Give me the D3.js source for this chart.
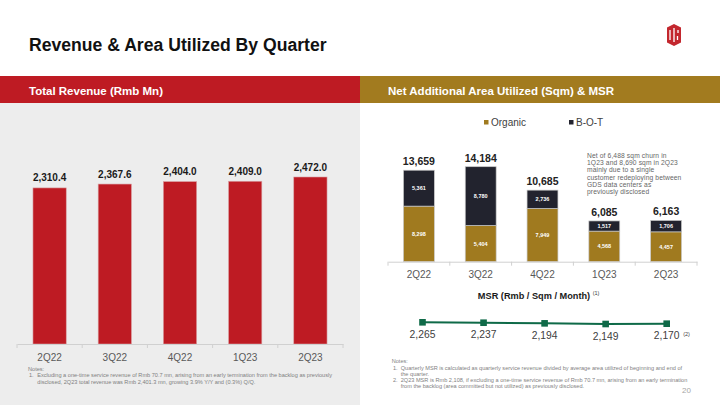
<!DOCTYPE html>
<html><head><meta charset="utf-8">
<script src="https://cdn.jsdelivr.net/npm/d3@7"></script>
<style>
html,body{margin:0;padding:0;background:#fff;}
svg{display:block;font-family:"Liberation Sans",Arial,sans-serif;}
</style></head>
<body>
<svg id="c" width="720" height="405"></svg>
<script>
// ---- data ----
const quarters = ["2Q22","3Q22","4Q22","1Q23","2Q23"];
const revenue = [2310.4, 2367.6, 2404.0, 2409.0, 2472.0];
const organic = [8298, 5404, 7949, 4568, 4457];
const bot = [5361, 8780, 2736, 1517, 1706];
const areaTotal = [13659, 14184, 10685, 6085, 6163];
const msr = [2265, 2237, 2194, 2149, 2170];
const seriesNames = ["Organic","B-O-T"];
const annotationLines = ["Net of 6,488 sqm churn in","1Q23 and 8,690 sqm in 2Q23","mainly due to a single","customer redeploying between","GDS data centers as","previously disclosed"];
const leftNotes = ["Notes:","Excluding a one-time service revenue of Rmb 70.7 mn, arising from an early termination from the backlog as previously","disclosed, 2Q23 total revenue was Rmb 2,401.3 mn, growing 3.9% Y/Y and (0.3%) Q/Q."];
const rightNotes = ["Notes:","Quarterly MSR is calculated as quarterly service revenue divided by average area utilized of beginning and end of","the quarter.","2Q23 MSR is Rmb 2,108, if excluding a one-time service revenue of Rmb 70.7 mn, arising from an early termination","from the backlog (area committed but not utilized) as previously disclosed."];

const RED="#BE1B23", GOLD="#A07A1F", NAVY="#22232E", GREEN="#0F6A48";
const fmt0 = d3.format(",.0f"), fmt1 = d3.format(",.1f");

const svg = d3.select("#c");

// title
svg.append("text").attr("x",29).attr("y",51).attr("font-size",17.6).attr("font-weight","bold")
  .attr("fill","#111").text("Revenue & Area Utilized By Quarter");

// logo
const lg = svg.append("g").attr("transform","translate(667,24)");
lg.append("path").attr("d","M7,0 L14,3.5 L14,18.5 L7,22 L0,18.5 L0,3.5 Z").attr("fill","#C3272E");
lg.append("path").attr("d","M3,6 L3,16 M7,4 L7,18 M11,6 L11,9 M10.5,12 L10.5,16").attr("stroke","#fff").attr("stroke-width",1.3).attr("fill","none");

// header bands
svg.append("rect").attr("x",0).attr("y",76).attr("width",360).attr("height",27).attr("fill",RED);
svg.append("rect").attr("x",360).attr("y",76).attr("width",360).attr("height",27).attr("fill","#A27B1F");
svg.append("text").attr("x",29).attr("y",95).attr("font-size",11.5).attr("font-weight","bold").attr("fill","#fff").text("Total Revenue (Rmb Mn)");
svg.append("text").attr("x",388).attr("y",95).attr("font-size",11.5).attr("font-weight","bold").attr("fill","#fff").text("Net Additional Area Utilized (Sqm) & MSR");

// left panel background
svg.append("rect").attr("x",0).attr("y",103).attr("width",360).attr("height",302).attr("fill","#EDEDED");

// ---- left bar chart ----
const xL = d3.scaleBand().domain(quarters).range([17,343]).paddingInner(0.49).paddingOuter(0.245);
const yL = d3.scaleLinear().domain([0,2472]).range([344,177]);
const gL = svg.append("g");
gL.selectAll("rect.bar").data(quarters).join("rect").attr("class","bar")
  .attr("x",d=>xL(d)).attr("width",xL.bandwidth())
  .attr("y",(d,i)=>yL(revenue[i])).attr("height",(d,i)=>yL(0)-yL(revenue[i]))
  .attr("fill",RED).attr("stroke","#D9A0A3").attr("stroke-width",0.6);
gL.selectAll("text.val").data(quarters).join("text").attr("class","val")
  .attr("x",d=>xL(d)+xL.bandwidth()/2).attr("y",(d,i)=>yL(revenue[i])-6.5)
  .attr("text-anchor","middle").attr("font-size",10).attr("font-weight","bold").attr("fill","#1a1a1a")
  .text((d,i)=>fmt1(revenue[i]));
// axis
const axL = gL.append("g").attr("transform",`translate(0,${yL(0)})`)
  .call(d3.axisBottom(xL).tickSize(0).tickPadding(10));
axL.select(".domain").attr("stroke","#D0D0D0").attr("stroke-width",1);
axL.selectAll("text").attr("font-size",10).attr("fill","#595959").attr("font-family","Liberation Sans, Arial, sans-serif");
const stepL = xL.step();
const bL = quarters.map(q=>xL(q)-stepL*xL.paddingInner()/2).concat([xL.range()[1]]);
gL.selectAll("line.tk").data(bL).join("line").attr("class","tk")
  .attr("x1",d=>d).attr("x2",d=>d).attr("y1",yL(0)).attr("y2",yL(0)+4).attr("stroke","#D0D0D0");

// left notes
const ln = svg.append("g").attr("font-size",5.6).attr("fill","#7F7F7F");
ln.append("text").attr("x",28).attr("y",371).text(leftNotes[0]);
ln.append("text").attr("x",29).attr("y",377).text("1.");
ln.append("text").attr("x",37.3).attr("y",377).text(leftNotes[1]);
ln.append("text").attr("x",37.3).attr("y",383.5).text(leftNotes[2]);

// ---- right stacked bars ----
const xR = d3.scaleBand().domain(quarters).range([388,697]).paddingInner(0.5).paddingOuter(0.25);
const yR = d3.scaleLinear().domain([0,14184]).range([261.7,166.7]);
const stackData = quarters.map((q,i)=>({q, Organic:organic[i], "B-O-T":bot[i]}));
const stacked = d3.stack().keys(seriesNames)(stackData);
const colors = {"Organic":GOLD,"B-O-T":NAVY};
const gR = svg.append("g");
stacked.forEach(s=>{
  gR.selectAll(null).data(s).join("rect")
    .attr("x",d=>xR(d.data.q)).attr("width",xR.bandwidth())
    .attr("y",d=>yR(d[1])).attr("height",d=>yR(d[0])-yR(d[1]))
    .attr("fill",colors[s.key]).attr("stroke","#C9C9C9").attr("stroke-width",0.7);
  gR.selectAll(null).data(s).join("text")
    .attr("x",d=>xR(d.data.q)+xR.bandwidth()/2).attr("y",d=>(yR(d[0])+yR(d[1]))/2+2)
    .attr("text-anchor","middle").attr("font-size",5.5).attr("font-weight","bold").attr("fill","#fff")
    .text(d=>fmt0(d.data[s.key]));
});
gR.selectAll("text.tot").data(quarters).join("text").attr("class","tot")
  .attr("x",d=>xR(d)+xR.bandwidth()/2).attr("y",(d,i)=>yR(areaTotal[i])-5)
  .attr("text-anchor","middle").attr("font-size",10.5).attr("font-weight","bold").attr("fill","#222")
  .text((d,i)=>fmt0(areaTotal[i]));
const axR = gR.append("g").attr("transform",`translate(0,${yR(0)})`)
  .call(d3.axisBottom(xR).tickSize(0).tickPadding(9));
axR.select(".domain").attr("stroke","#D0D0D0").attr("stroke-width",1);
axR.selectAll("text").attr("font-size",10).attr("fill","#595959").attr("font-family","Liberation Sans, Arial, sans-serif");
const stepR = xR.step();
const bR = quarters.map(q=>xR(q)-stepR*xR.paddingInner()/2).concat([xR.range()[1]]);
gR.selectAll("line.tk").data(bR).join("line").attr("class","tk")
  .attr("x1",d=>d).attr("x2",d=>d).attr("y1",yR(0)).attr("y2",yR(0)+4).attr("stroke","#D0D0D0");

// legend
const leg = svg.append("g");
const legX = [484, 569];
seriesNames.forEach((n,i)=>{
  leg.append("rect").attr("x",legX[i]).attr("y",120).attr("width",4.5).attr("height",4.5).attr("fill",colors[n]);
  leg.append("text").attr("x",legX[i]+7).attr("y",125.6).attr("font-size",10).attr("fill","#404040").text(n);
});

// annotation
svg.append("g").selectAll("text").data(annotationLines).join("text")
  .attr("x",587).attr("y",(d,i)=>157.5+i*7.35).attr("font-size",6.7).attr("fill","#666")
  .attr("letter-spacing",0.12).text(d=>d);

// ---- MSR line ----
svg.append("text").attr("x",534).attr("y",299).attr("text-anchor","middle").attr("font-size",9.2)
  .attr("font-weight","bold").attr("fill","#1a1a1a").text("MSR (Rmb / Sqm / Month)");
svg.append("text").attr("x",596).attr("y",294.5).attr("text-anchor","middle").attr("font-size",5.5).attr("fill","#404040").text("(1)");
const xM = d3.scalePoint().domain(quarters).range([422.5,666.7]);
const yM = d3.scaleLinear().domain([0,2265]).range([355.6,322.3]);
const gM = svg.append("g");
gM.append("path").datum(msr).attr("fill","none").attr("stroke",GREEN).attr("stroke-width",2)
  .attr("d",d3.line().x((d,i)=>xM(quarters[i])).y(d=>yM(d)));
gM.selectAll("rect").data(msr).join("rect")
  .attr("x",(d,i)=>xM(quarters[i])-3.3).attr("y",d=>yM(d)-3.3).attr("width",6.6).attr("height",6.6).attr("fill",GREEN);
gM.selectAll("text").data(msr).join("text")
  .attr("x",(d,i)=>xM(quarters[i])).attr("y",d=>yM(d)+15.5).attr("text-anchor","middle")
  .attr("font-size",10.3).attr("fill","#404040").text(d=>fmt0(d));
svg.append("text").attr("x",686.5).attr("y",335.5).attr("text-anchor","middle").attr("font-size",5.5).attr("fill","#404040").text("(2)");

// right notes
const rn = svg.append("g").attr("font-size",5.6).attr("fill","#7F7F7F");
rn.append("text").attr("x",391.7).attr("y",363).text(rightNotes[0]);
rn.append("text").attr("x",393).attr("y",369.6).text("1.");
rn.append("text").attr("x",400.7).attr("y",369.6).text(rightNotes[1]);
rn.append("text").attr("x",400.7).attr("y",376).text(rightNotes[2]);
rn.append("text").attr("x",393).attr("y",381.5).text("2.");
rn.append("text").attr("x",400.7).attr("y",381.5).text(rightNotes[3]);
rn.append("text").attr("x",400.7).attr("y",388).text(rightNotes[4]);

// page number
svg.append("text").attr("x",686.5).attr("y",393).attr("text-anchor","middle").attr("font-size",8).attr("fill","#A6A6A6").text("20");
</script>
</body></html>
